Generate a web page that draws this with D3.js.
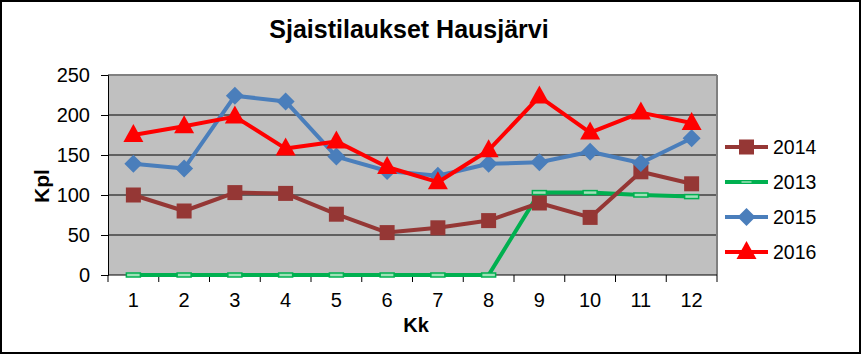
<!DOCTYPE html>
<html>
<head>
<meta charset="utf-8">
<script src="https://cdn.jsdelivr.net/npm/d3@7"></script>
<style>
  body { margin: 0; background: #fff; }
  svg { display: block; font-family: Arial, "Liberation Sans", sans-serif; }
</style>
</head>
<body>
<div id="chart"></div>
<script>
const months = [1, 2, 3, 4, 5, 6, 7, 8, 9, 10, 11, 12];
const yTicks = [0, 50, 100, 150, 200, 250];
const seriesNames = ["2014", "2013", "2015", "2016"];
const values2014 = [100, 80, 103, 102, 76, 53, 59, 68, 90, 72, 129, 114];
const values2013 = [0, 0, 0, 0, 0, 0, 0, 0, 103, 103, 100, 98];
const values2015 = [139, 133, 224, 217, 148, 130, 124, 139, 141, 154, 140, 171];
const values2016 = [175, 186, 198, 158, 167, 135, 116, 156, 223, 178, 203, 190];
const seriesColors = ["#953735", "#00B050", "#4A7EBB", "#FF0000"];
const seriesMarkers = ["square", "dash", "diamond", "triangle"];

const width = 861, height = 354;
const margin = { top: 75, right: 144, bottom: 79, left: 108 };

const svg = d3.select("#chart").append("svg")
    .attr("width", width)
    .attr("height", height);

svg.append("rect")
    .attr("x", 1).attr("y", 1)
    .attr("width", width - 2).attr("height", height - 2)
    .attr("fill", "#fff")
    .attr("stroke", "#000")
    .attr("stroke-width", 2);

const x = d3.scaleBand()
    .domain(months)
    .range([margin.left, width - margin.right]);

const y = d3.scaleLinear()
    .domain([0, 250])
    .range([height - margin.bottom, margin.top]);

// plot area
svg.append("rect")
    .attr("x", margin.left)
    .attr("y", margin.top)
    .attr("width", x.range()[1] - margin.left)
    .attr("height", y(0) - margin.top)
    .attr("fill", "#C0C0C0");

// gridlines
svg.append("g")
    .selectAll("line")
    .data(yTicks.filter(d => d > 0 && d < 250))
    .join("line")
    .attr("x1", margin.left)
    .attr("x2", x.range()[1])
    .attr("y1", d => y(d))
    .attr("y2", d => y(d))
    .attr("stroke", "#000")
    .attr("stroke-width", 1);

// plot border (top and right)
svg.append("line")
    .attr("x1", margin.left).attr("x2", x.range()[1])
    .attr("y1", margin.top).attr("y2", margin.top)
    .attr("stroke", "#808080").attr("stroke-width", 2);
svg.append("line")
    .attr("x1", x.range()[1]).attr("x2", x.range()[1])
    .attr("y1", margin.top).attr("y2", y(0))
    .attr("stroke", "#808080").attr("stroke-width", 2);

// y axis
const yAxis = svg.append("g")
    .attr("transform", `translate(${margin.left},0)`)
    .call(d3.axisLeft(y).tickValues(yTicks).tickSize(7).tickPadding(11));
yAxis.select(".domain").attr("stroke", "#000");
yAxis.selectAll(".tick line").attr("stroke", "#000");
yAxis.selectAll("text")
    .attr("fill", "#000")
    .style("font-size", "20px");

// x axis
const xTickPositions = d3.range(13).map(i => margin.left + i * x.bandwidth());
const xAxis = svg.append("g")
    .attr("transform", `translate(0,${y(0)})`);
xAxis.append("line")
    .attr("x1", margin.left)
    .attr("x2", x.range()[1])
    .attr("stroke", "#000");
xAxis.selectAll("line.tk")
    .data(xTickPositions)
    .join("line")
    .attr("class", "tk")
    .attr("x1", d => d)
    .attr("x2", d => d)
    .attr("y1", 0)
    .attr("y2", 7)
    .attr("stroke", "#000");
xAxis.selectAll("text")
    .data(months)
    .join("text")
    .attr("x", d => x(d) + x.bandwidth() / 2)
    .attr("y", 32)
    .attr("text-anchor", "middle")
    .style("font-size", "20px")
    .text(d => d);

// titles
svg.append("text")
    .attr("x", 409)
    .attr("y", 38)
    .attr("text-anchor", "middle")
    .style("font-size", "25px")
    .style("font-weight", "bold")
    .text("Sjaistilaukset Hausjärvi");

svg.append("text")
    .attr("x", 416)
    .attr("y", 332)
    .attr("text-anchor", "middle")
    .style("font-size", "20px")
    .style("font-weight", "bold")
    .text("Kk");

svg.append("text")
    .attr("transform", "translate(49,186) rotate(-90)")
    .attr("text-anchor", "middle")
    .style("font-size", "21px")
    .style("font-weight", "bold")
    .text("Kpl");

// series
const allValues = [values2014, values2013, values2015, values2016];
const series = seriesNames.map((name, i) => ({
    name: name,
    color: seriesColors[i],
    marker: seriesMarkers[i],
    points: months.map((m, j) => ({ m: m, v: allValues[i][j] }))
}));

const line = d3.line()
    .x(d => x(d.m) + x.bandwidth() / 2)
    .y(d => y(d.v));

function drawMarker(g, type, color) {
    if (type === "square") {
        g.append("rect").attr("x", -7.5).attr("y", -7.5).attr("width", 15).attr("height", 15)
            .attr("fill", color);
    } else if (type === "diamond") {
        g.append("path").attr("d", "M0,-9L9,0L0,9L-9,0Z").attr("fill", color);
    } else if (type === "triangle") {
        g.append("path").attr("d", "M0,-11L10,7L-10,7Z").attr("fill", color);
    } else if (type === "dash") {
        g.append("rect").attr("x", -7).attr("y", -2).attr("width", 14).attr("height", 4)
            .attr("fill", "#9FE0B8").attr("stroke", color).attr("stroke-width", 1.5);
    }
}

// draw order: 2013 first, then 2014, 2015, 2016
const drawOrder = [1, 0, 2, 3];
drawOrder.forEach(i => {
    const s = series[i];
    const g = svg.append("g");
    g.append("path")
        .datum(s.points)
        .attr("fill", "none")
        .attr("stroke", s.color)
        .attr("stroke-width", 4)
        .attr("stroke-linejoin", "round")
        .attr("d", line);
    g.selectAll("g.mk")
        .data(s.points)
        .join("g")
        .attr("class", "mk")
        .attr("transform", d => `translate(${x(d.m) + x.bandwidth() / 2},${y(d.v)})`)
        .each(function() { drawMarker(d3.select(this), s.marker, s.color); });
});

// legend
const legend = svg.append("g")
    .attr("transform", "translate(725,147)");
series.forEach((s, i) => {
    const row = legend.append("g").attr("transform", `translate(0,${i * 35})`);
    row.append("line")
        .attr("x1", 0).attr("x2", 43)
        .attr("stroke", s.color)
        .attr("stroke-width", 4);
    const mk = row.append("g").attr("transform", "translate(21.5,0)");
    if (s.marker === "dash") {
        mk.append("line").attr("x1", -5).attr("x2", 5)
            .attr("stroke", "#9FE0B8").attr("stroke-width", 1.5);
    } else {
        drawMarker(mk, s.marker, s.color);
    }
    row.append("text")
        .attr("x", 48)
        .attr("y", 7)
        .style("font-size", "19.5px")
        .text(s.name);
});
</script>
</body>
</html>
